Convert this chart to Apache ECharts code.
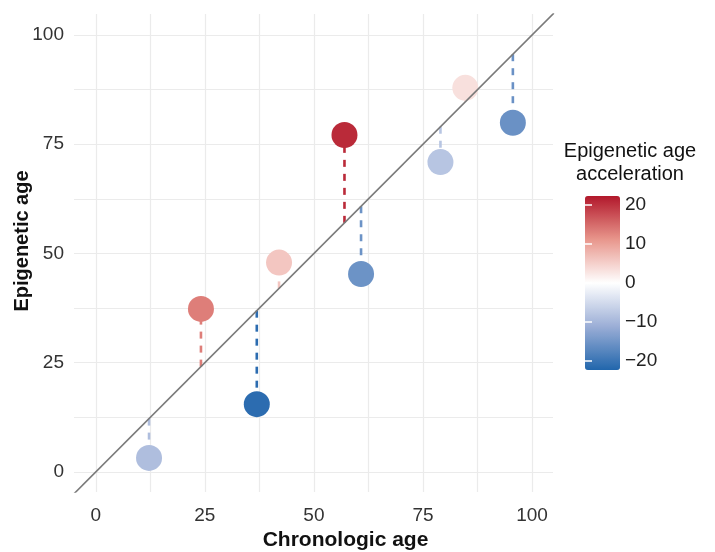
<!DOCTYPE html>
<html>
<head>
<meta charset="utf-8">
<script src="https://cdn.jsdelivr.net/npm/echarts@6/dist/echarts.min.js"></script>
<style>
  html, body { margin: 0; padding: 0; background: #fff; }
  #chart { width: 715px; height: 552px; }
</style>
</head>
<body>
<div id="chart"></div>
<script>
// values
const chronoAge = [12.2, 24.1, 36.9, 42.0, 57.0, 60.8, 79.0, 84.7, 95.6];
const epiAge = [3.2, 37.3, 15.5, 47.9, 77.1, 45.3, 70.9, 87.9, 79.9];
const accel = [-9.0, 13.2, -21.4, 5.9, 20.6, -15.5, -8.1, 3.2, -15.7];
const ageTicks = [0, 25, 50, 75, 100];
const ageGrid = [0, 12.5, 25, 37.5, 50, 62.5, 75, 87.5, 100];
const accelTicks = [-20, -10, 0, 10, 20];
const accelRange = [-22.4, 22.2];
const identityLine = [-5, 105];

const font = 'Liberation Sans';
const points = chronoAge.map((x, i) => [x, epiAge[i], accel[i]]);

const myChart = echarts.init(document.getElementById('chart'));

const option = {
  animation: false,
  textStyle: { fontFamily: font },
  grid: [
    { left: 74, right: 162, top: 14, bottom: 60, outerBoundsMode: 'none' },
    { left: 585, top: 196, width: 35, height: 174, outerBoundsMode: 'none' },
  ],
  xAxis: [
    {
      type: 'value',
      gridIndex: 0,
      min: -5,
      max: 104.8,
      name: 'Chronologic age',
      nameLocation: 'middle',
      nameGap: 36,
      nameTextStyle: { fontSize: 21, fontWeight: 'bold', color: '#111', padding: [0, 0, 0, 64] },
      axisLine: { show: false },
      axisTick: { show: false, customValues: ageGrid },
      axisLabel: { customValues: ageTicks, fontSize: 19, color: '#333', margin: 14 },
      splitLine: { show: true, lineStyle: { color: '#ebebeb', width: 1.2 } },
    },
    { type: 'value', gridIndex: 1, show: false, min: 0, max: 1 },
  ],
  yAxis: [
    {
      type: 'value',
      gridIndex: 0,
      min: -4.6,
      max: 104.8,
      name: 'Epigenetic age',
      nameLocation: 'middle',
      nameGap: 42,
      nameMoveOverlap: false,
      nameTextStyle: { fontSize: 20, fontWeight: 'bold', color: '#111', padding: [0, 0, 0, 24] },
      axisLine: { show: false },
      axisTick: { show: false, customValues: ageGrid },
      axisLabel: { customValues: ageTicks, fontSize: 19, color: '#333', margin: 10 },
      splitLine: { show: true, lineStyle: { color: '#ebebeb', width: 1.2 } },
    },
    {
      type: 'value',
      gridIndex: 1,
      position: 'right',
      min: accelRange[0],
      max: accelRange[1],
      z: 10,
      axisLine: { show: false },
      splitLine: { show: false },
      axisTick: { show: true, inside: true, length: 7, customValues: accelTicks, lineStyle: { color: '#fff', width: 1.5 } },
      axisLabel: {
        customValues: accelTicks,
        fontSize: 19,
        color: '#222',
        margin: 5,
        formatter: (v) => (v < 0 ? '\u2212' + Math.abs(v) : String(v)),
      },
    },
    {
      type: 'value',
      gridIndex: 1,
      position: 'left',
      min: accelRange[0],
      max: accelRange[1],
      z: 10,
      axisLine: { show: false },
      splitLine: { show: false },
      axisTick: { show: true, inside: true, length: 7, customValues: accelTicks, lineStyle: { color: '#fff', width: 1.5 } },
      axisLabel: { show: false },
    },
  ],
  visualMap: {
    type: 'continuous',
    seriesIndex: [0, 1],
    dimension: 2,
    min: accelRange[0],
    max: accelRange[1],
    calculable: false,
    left: 585,
    top: 196,
    padding: 0,
    itemWidth: 35,
    itemHeight: 174,
    inRange: { color: ['#2166ac', '#9baed6', '#ffffff', '#e8968c', '#b2182b'] },
  },
  graphic: [
    {
      type: 'text',
      x: 630,
      y: 140,
      style: {
        text: 'Epigenetic age\nacceleration',
        align: 'center',
        verticalAlign: 'top',
        font: '20px ' + font,
        fill: '#111',
        lineHeight: 23,
      },
    },
  ],
  series: [
    {
      // dashed drop from the identity line to each point
      type: 'custom',
      xAxisIndex: 0,
      yAxisIndex: 0,
      z: 2,
      data: points,
      renderItem: (params, api) => {
        const x = api.value(0);
        const y = api.value(1);
        const p1 = api.coord([x, x]);
        const p2 = api.coord([x, y]);
        return {
          type: 'line',
          shape: { x1: p1[0], y1: p1[1], x2: p2[0], y2: p2[1] },
          style: { stroke: api.visual('color'), lineWidth: 2.6, lineDash: [7, 7] },
        };
      },
    },
    {
      type: 'scatter',
      xAxisIndex: 0,
      yAxisIndex: 0,
      z: 3,
      symbolSize: 26,
      itemStyle: { opacity: 1 },
      emphasis: { disabled: true },
      data: points,
    },
    {
      type: 'line',
      xAxisIndex: 0,
      yAxisIndex: 0,
      z: 4,
      symbol: 'none',
      silent: true,
      lineStyle: { color: '#7a7a7a', width: 1.6 },
      data: identityLine.map((v) => [v, v]),
    },
  ],
};

myChart.setOption(option);
</script>
</body>
</html>
